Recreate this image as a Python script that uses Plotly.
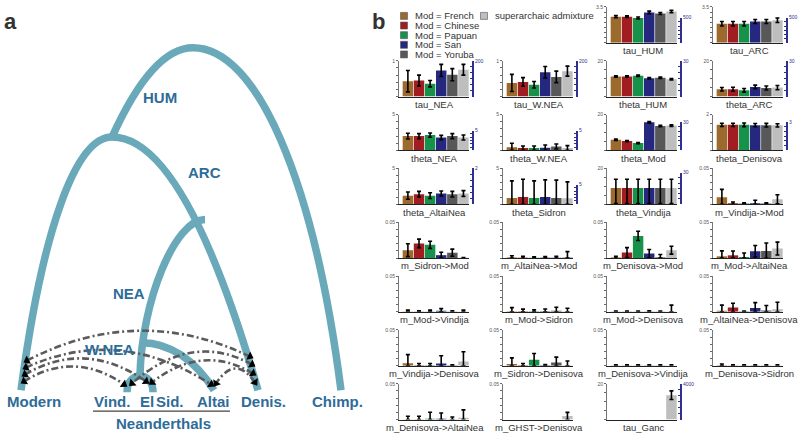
import math
import plotly.graph_objects as go

W, H = 800, 438

# ---------------- panel b data ----------------
categories = ["Mod = French", "Mod = Chinese", "Mod = Papuan", "Mod = San",
              "Mod = Yoruba", "superarchaic admixture"]

tau_HUM = [2.55, 2.55, 2.42, 2.97, 2.86, 3.05]
tau_HUM_err = [0.10, 0.08, 0.10, 0.12, 0.10, 0.12]
tau_ARC = [1.86, 1.86, 1.86, 2.08, 2.08, 2.20]
tau_ARC_err = [0.22, 0.22, 0.22, 0.20, 0.20, 0.22]
tau_NEA = [0.43, 0.45, 0.36, 0.73, 0.61, 0.75]
tau_NEA_err = [0.30, 0.15, 0.09, 0.17, 0.17, 0.15]
tau_WNEA = [0.38, 0.41, 0.33, 0.68, 0.55, 0.71]
tau_WNEA_err = [0.24, 0.12, 0.09, 0.16, 0.16, 0.14]
theta_HUM = [11.2, 11.2, 11.6, 10.3, 10.5, 9.7]
theta_HUM_err = [0.4, 0.4, 0.4, 0.4, 0.4, 0.4]
theta_ARC = [4.1, 4.1, 3.5, 5.4, 4.8, 5.0]
theta_ARC_err = [1.0, 1.1, 1.0, 1.0, 1.1, 1.2]
theta_NEA = [2.0, 2.0, 2.14, 1.8, 2.0, 1.8]
theta_NEA_err = [0.4, 0.35, 0.3, 0.3, 0.35, 0.35]
theta_WNEA = [0.45, 0.32, 0.32, 0.36, 0.55, 0.32]
theta_WNEA_err = [0.55, 0.3, 0.3, 0.4, 0.35, 0.35]
theta_Mod = [6.0, 5.2, 4.1, 15.7, 13.7, 13.9]
theta_Mod_err = [0.4, 0.35, 0.3, 0.45, 0.4, 0.45]
theta_Denisova = [1.43, 1.43, 1.43, 1.41, 1.41, 1.40]
theta_Denisova_err = [0.09, 0.09, 0.10, 0.09, 0.10, 0.09]
theta_AltaiNea = [1.2, 1.4, 1.2, 1.5, 1.4, 1.5]
theta_AltaiNea_err = [0.5, 0.4, 0.4, 0.35, 0.4, 0.4]
theta_Sidron = [0.87, 1.0, 0.87, 1.0, 0.87, 0.83]
theta_Sidron_err = [2.4, 2.5, 2.4, 2.4, 2.5, 2.3]
theta_Vindija = [9.0, 9.0, 9.0, 9.0, 9.0, 9.0]
theta_Vindija_err = [5.0, 5.0, 5.0, 5.0, 5.0, 5.0]
theta_Vindija_err_low = [8.6, 8.6, 8.6, 8.6, 8.6, 8.6]
m_Vindija_Mod = [0.0097, 0.0015, 0.001, 0.0015, 0.001, 0.007]
m_Vindija_Mod_err = [0.011, 0.0015, 0.001, 0.004, 0.001, 0.0063]
m_Sidron_Mod = [0.011, 0.0205, 0.0185, 0.004, 0.0075, 0.0005]
m_Sidron_Mod_err = [0.009, 0.006, 0.005, 0.004, 0.005, 0.0003]
m_AltaiNea_Mod = [0.0008, 0.0005, 0.0004, 0.0005, 0.0005, 0.0015]
m_AltaiNea_Mod_err = [0.0025, 0.002, 0.0012, 0.0015, 0.002, 0.0075]
m_Denisova_Mod = [0.0008, 0.0076, 0.031, 0.0062, 0.001, 0.011]
m_Denisova_Mod_err = [0.0018, 0.007, 0.0064, 0.0057, 0.004, 0.0055]
m_Mod_AltaiNea = [0.0024, 0.0038, 0.0014, 0.0095, 0.010, 0.0133]
m_Mod_AltaiNea_err = [0.0076, 0.006, 0.0057, 0.008, 0.011, 0.009]
m_Mod_Vindija = [0.0005, 0.0004, 0.0005, 0.0015, 0.0004, 0.0005]
m_Mod_Vindija_err = [0.002, 0.0012, 0.002, 0.003, 0.001, 0.002]
m_Mod_Sidron = [0.001, 0.0008, 0.0008, 0.001, 0.0015, 0.001]
m_Mod_Sidron_err = [0.005, 0.003, 0.002, 0.003, 0.005, 0.004]
m_Mod_Denisova = [0.0004, 0.0004, 0.0004, 0.0004, 0.0004, 0.0005]
m_Mod_Denisova_err = [0.0008, 0.0008, 0.0008, 0.001, 0.0008, 0.009]
m_AltaiNea_Denisova = [0.0015, 0.006, 0.0008, 0.0055, 0.002, 0.0035]
m_AltaiNea_Denisova_err = [0.008, 0.006, 0.0005, 0.0075, 0.007, 0.010]
m_Vindija_Denisova = [0.0035, 0.0005, 0.0005, 0.003, 0.0005, 0.006]
m_Vindija_Denisova_err = [0.012, 0.0025, 0.0025, 0.011, 0.0008, 0.0135]
m_Sidron_Denisova = [0.0025, 0.0005, 0.0085, 0.0008, 0.0045, 0.0005]
m_Sidron_Denisova_err = [0.0085, 0.0025, 0.0085, 0.0008, 0.0075, 0.006]
m_Denisova_Vindija = [0.0004, 0.0004, 0.0004, 0.0004, 0.0004, 0.0004]
m_Denisova_Vindija_err = [0.0008, 0.0008, 0.0008, 0.0008, 0.0008, 0.0008]
m_Denisova_Sidron = [0.0008, 0.0004, 0.0004, 0.0004, 0.0004, 0.0004]
m_Denisova_Sidron_err = [0.0015, 0.0008, 0.0008, 0.0008, 0.0008, 0.0008]
m_Denisova_AltaiNea = [0.0005, 0.0005, 0.0012, 0.0012, 0.0005, 0.0025]
m_Denisova_AltaiNea_err = [0.004, 0.004, 0.009, 0.008, 0.003, 0.011]
m_GHST_Denisova = [None, None, None, None, None, 0.005]
m_GHST_Denisova_err = [None, None, None, None, None, 0.005]
tau_Ganc = [None, None, None, None, None, 13.6]
tau_Ganc_err = [None, None, None, None, None, 2.4]

params = {
    "tau_HUM": (tau_HUM, tau_HUM_err, None),
    "tau_ARC": (tau_ARC, tau_ARC_err, None),
    "tau_NEA": (tau_NEA, tau_NEA_err, None),
    "tau_W.NEA": (tau_WNEA, tau_WNEA_err, None),
    "theta_HUM": (theta_HUM, theta_HUM_err, None),
    "theta_ARC": (theta_ARC, theta_ARC_err, None),
    "theta_NEA": (theta_NEA, theta_NEA_err, None),
    "theta_W.NEA": (theta_WNEA, theta_WNEA_err, None),
    "theta_Mod": (theta_Mod, theta_Mod_err, None),
    "theta_Denisova": (theta_Denisova, theta_Denisova_err, None),
    "theta_AltaiNea": (theta_AltaiNea, theta_AltaiNea_err, None),
    "theta_Sidron": (theta_Sidron, theta_Sidron_err, None),
    "theta_Vindija": (theta_Vindija, theta_Vindija_err, theta_Vindija_err_low),
    "m_Vindija->Mod": (m_Vindija_Mod, m_Vindija_Mod_err, None),
    "m_Sidron->Mod": (m_Sidron_Mod, m_Sidron_Mod_err, None),
    "m_AltaiNea->Mod": (m_AltaiNea_Mod, m_AltaiNea_Mod_err, None),
    "m_Denisova->Mod": (m_Denisova_Mod, m_Denisova_Mod_err, None),
    "m_Mod->AltaiNea": (m_Mod_AltaiNea, m_Mod_AltaiNea_err, None),
    "m_Mod->Vindija": (m_Mod_Vindija, m_Mod_Vindija_err, None),
    "m_Mod->Sidron": (m_Mod_Sidron, m_Mod_Sidron_err, None),
    "m_Mod->Denisova": (m_Mod_Denisova, m_Mod_Denisova_err, None),
    "m_AltaiNea->Denisova": (m_AltaiNea_Denisova, m_AltaiNea_Denisova_err, None),
    "m_Vindija->Denisova": (m_Vindija_Denisova, m_Vindija_Denisova_err, None),
    "m_Sidron->Denisova": (m_Sidron_Denisova, m_Sidron_Denisova_err, None),
    "m_Denisova->Vindija": (m_Denisova_Vindija, m_Denisova_Vindija_err, None),
    "m_Denisova->Sidron": (m_Denisova_Sidron, m_Denisova_Sidron_err, None),
    "m_Denisova->AltaiNea": (m_Denisova_AltaiNea, m_Denisova_AltaiNea_err, None),
    "m_GHST->Denisova": (m_GHST_Denisova, m_GHST_Denisova_err, None),
    "tau_Ganc": (tau_Ganc, tau_Ganc_err, None),
}

# left-axis top tick label of each chart
left_top = {"tau_HUM": 3.5, "tau_ARC": 3.5, "tau_NEA": 1, "tau_W.NEA": 1,
            "theta_HUM": 20, "theta_ARC": 20, "theta_NEA": 5, "theta_W.NEA": 5,
            "theta_Mod": 20, "theta_Denisova": 2, "theta_AltaiNea": 5,
            "theta_Sidron": 5, "theta_Vindija": 20, "tau_Ganc": 20}
left_intervals = {3.5: 7, 1: 5, 20: 4, 5: 5, 2: 4, 0.05: 5}
# right (blue) axis top tick label
right_top = {"tau_HUM": 500, "tau_ARC": 500, "tau_NEA": 200, "tau_W.NEA": 200,
             "theta_HUM": 30, "theta_ARC": 30, "theta_NEA": 5, "theta_W.NEA": 5,
             "theta_Mod": 30, "theta_Denisova": 3, "theta_AltaiNea": 2,
             "theta_Sidron": 5, "theta_Vindija": 30, "tau_Ganc": 4000}

grid = [
    [None, None, "tau_HUM", "tau_ARC"],
    ["tau_NEA", "tau_W.NEA", "theta_HUM", "theta_ARC"],
    ["theta_NEA", "theta_W.NEA", "theta_Mod", "theta_Denisova"],
    ["theta_AltaiNea", "theta_Sidron", "theta_Vindija", "m_Vindija->Mod"],
    ["m_Sidron->Mod", "m_AltaiNea->Mod", "m_Denisova->Mod", "m_Mod->AltaiNea"],
    ["m_Mod->Vindija", "m_Mod->Sidron", "m_Mod->Denisova", "m_AltaiNea->Denisova"],
    ["m_Vindija->Denisova", "m_Sidron->Denisova", "m_Denisova->Vindija", "m_Denisova->Sidron"],
    ["m_Denisova->AltaiNea", "m_GHST->Denisova", "tau_Ganc", None],
]

# ---------------- panel a (tree diagram, pixel space) ----------------
tree_nodes = {
    "Modern": (21, 390), "Vind": (127, 392), "Sid": (153, 392), "Altai": (214, 390),
    "Denis": (258, 390), "Chimp": (341, 390),
    "HUM": (193, 45), "ARC": (112, 135), "NEA": (205, 218), "WNEA": (142, 342),
    "VS": (140, 374),
}
tree_labels = [("HUM", 160, 95), ("ARC", 204, 171), ("NEA", 129, 293), ("W.NEA", 109, 349)]
leaf_labels = [("Modern", 34, 401), ("Vind.", 112, 401), ("El", 147, 401), ("Sid.", 170, 401),
               ("Altai", 213, 401), ("Denis.", 263, 401), ("Chimp.", 337, 401)]
group_label = ("Neanderthals", 163, 423)

mig_mod = [(27, 360), (26, 367), (25, 374), (24, 381)]
mig_den = [(250, 356), (252, 364), (253, 373), (255, 382)]
mig_vind = [(124, 384), (132, 383)]
mig_sid = [(146, 381), (152, 382)]
mig_alt = [(211, 384), (216, 383)]
migrations = [
    (mig_mod[0], mig_den[0], 330),
    (mig_mod[1], mig_alt[0], 350),
    (mig_mod[2], mig_sid[0], 358),
    (mig_mod[3], mig_vind[0], 366),
    (mig_den[1], mig_vind[1], 352),
    (mig_den[2], mig_sid[1], 360),
    (mig_den[3], mig_alt[1], 368),
]

# ---------------- styles ----------------
FONT = "Arial, Liberation Sans, sans-serif"
bar_colors = ["#9d6a2e", "#a11d22", "#17924a", "#26287f", "#585858", "#bebebe"]
TEAL = "#69a9ba"
TREE_TXT = "#2e6c98"
BLUE = "#2f2f92"
COL_X = [399, 503, 607, 713]
PLOT_W = 70
BLUE_OFF = 74
ROW_LABEL_Y = [48 + 54.2 * r for r in range(8)]
blue_frac = {"tau_HUM": 0.7, "tau_ARC": 0.7, "tau_NEA": 1.0, "tau_W.NEA": 1.0,
             "theta_HUM": 1.0, "theta_ARC": 1.0, "theta_NEA": 0.55, "theta_W.NEA": 0.55,
             "theta_Mod": 0.8, "theta_Denisova": 0.8, "theta_AltaiNea": 1.0,
             "theta_Sidron": 0.55, "theta_Vindija": 0.88, "tau_Ganc": 1.0}


def fx(x):
    return x / W


def fy(y):
    return 1 - y / H


def fmt(v):
    return "%g" % v


fig = go.Figure()
layout = dict(
    width=W, height=H, autosize=False,
    margin=dict(l=0, r=0, t=0, b=0),
    paper_bgcolor="white", plot_bgcolor="rgba(0,0,0,0)",
    showlegend=False, font=dict(family=FONT, color="#333"),
    xaxis=dict(domain=[0, 1], range=[0, W], visible=False, fixedrange=True),
    yaxis=dict(domain=[0, 1], range=[H, 0], visible=False, fixedrange=True),
)
annotations = []
shapes = []

# ---- charts ----
n = 2
blue_idx = 100
for r, row in enumerate(grid):
    for c, name in enumerate(row):
        if name is None:
            continue
        vals, err, err_low = params[name]
        if err_low is None:
            err_low = [None if (e is None or v is None) else min(e, v) for v, e in zip(vals, err)]
        L = COL_X[c]
        ly = ROW_LABEL_Y[r]
        top, bot = ly - 44, ly - 8
        top_val = left_top.get(name, 0.05)
        nint = left_intervals[top_val]
        tv = [top_val * i / nint for i in range(nint + 1)]
        tt = [""] * nint + [fmt(top_val)]
        layout[f"xaxis{n}"] = dict(domain=[fx(L), fx(L + PLOT_W)], anchor=f"y{n}",
                                   range=[-0.8, 5.5], showline=True, linecolor="#222",
                                   linewidth=1, showticklabels=False, ticks="",
                                   showgrid=False, zeroline=False, fixedrange=True)
        layout[f"yaxis{n}"] = dict(domain=[fy(bot), fy(top)], anchor=f"x{n}",
                                   range=[0, top_val], tickvals=tv, ticktext=tt,
                                   ticks="outside", ticklen=2, tickwidth=1, tickcolor="#666",
                                   showline=True, linecolor="#777", linewidth=1,
                                   tickfont=dict(size=5, color="#555"),
                                   showgrid=False, zeroline=False, fixedrange=True)
        fig.add_trace(go.Bar(
            x=list(range(6)), y=vals, marker=dict(color=bar_colors, line=dict(width=0)),
            width=0.94,
            error_y=dict(type="data", symmetric=False, array=err, arrayminus=err_low,
                         color="black", thickness=1.6, width=2),
            xaxis=f"x{n}", yaxis=f"y{n}", hoverinfo="skip", showlegend=False))
        annotations.append(dict(x=fx(L + 36), y=fy(ly), xref="paper", yref="paper",
                                text=name, showarrow=False, font=dict(size=9.5, color="#333"),
                                xanchor="center", yanchor="middle"))
        if name in right_top:
            bv = right_top[name]
            frac = blue_frac[name]
            nb = 6
            btv = [bv * i / nb for i in range(nb + 1)]
            btt = [""] * nb + [fmt(bv)]
            top_b = bot - frac * (bot - top)
            layout[f"yaxis{blue_idx}"] = dict(
                domain=[fy(bot), fy(top_b)], anchor="free", position=fx(L + BLUE_OFF),
                side="right", range=[0, bv], tickvals=btv, ticktext=btt,
                ticks="inside", ticklen=2, tickwidth=1, tickcolor=BLUE,
                showline=True, linecolor=BLUE, linewidth=2,
                tickfont=dict(size=5, color=BLUE), showgrid=False, zeroline=False,
                fixedrange=True)
            fig.add_trace(go.Scatter(x=[None], y=[None], xaxis=f"x{n}", yaxis=f"y{blue_idx}",
                                     mode="markers", showlegend=False, hoverinfo="skip"))
            blue_idx += 1
        n += 1

# ---- legend for panel b ----
leg_x = [404, 404, 404, 404, 404, 484]
leg_y = [13, 22.7, 32.4, 42.1, 51.8, 13]
fig.add_trace(go.Scatter(x=leg_x, y=leg_y, xaxis="x", yaxis="y", mode="markers",
                         marker=dict(symbol="square", size=7, color=bar_colors,
                                     line=dict(color="#555", width=0.6)),
                         hoverinfo="skip", showlegend=False))
for lab, x, y in zip(categories, leg_x, leg_y):
    annotations.append(dict(x=x + 9, y=y, xref="x", yref="y", text=lab, showarrow=False,
                            xanchor="left", yanchor="middle", font=dict(size=9.5, color="#333")))


# ---- tree ----
def ctrl(apex, end, f):
    """control points of a curve leaving 'apex' horizontally and reaching 'end';
    f=0 gives a parabola, f=1 a quarter ellipse"""
    dx, dy = end[0] - apex[0], end[1] - apex[1]
    a = 1 / 3 + f * (0.552 - 1 / 3)
    b = 2 / 3 + f * (0.552 - 2 / 3)
    c_apex = (apex[0] + a * dx, apex[1])
    c_end = (end[0] - (1 - f) * dx / 3, end[1] - b * dy)
    return c_apex, c_end


def arc(p0, apex, p1, f0=0.0, f1=0.0):
    ca0, ce0 = ctrl(apex, p0, f0)
    ca1, ce1 = ctrl(apex, p1, f1)
    return (f"M {p0[0]},{p0[1]} C {ce0[0]},{ce0[1]} {ca0[0]},{ca0[1]} {apex[0]},{apex[1]} "
            f"C {ca1[0]},{ca1[1]} {ce1[0]},{ce1[1]} {p1[0]},{p1[1]}")


def half(apex, p1, f=0.0):
    ca, ce = ctrl(apex, p1, f)
    return f"M {apex[0]},{apex[1]} C {ca[0]},{ca[1]} {ce[0]},{ce[1]} {p1[0]},{p1[1]}"


N = tree_nodes
tree_paths = [
    arc(N["ARC"], N["HUM"], N["Chimp"], 0.0, 0.45),
    arc(N["Modern"], N["ARC"], N["Denis"], 0.3, 0.0),
    f"M {N['NEA'][0]},{N['NEA'][1]} C {N['NEA'][0] - 30},{N['NEA'][1]} "
    f"{N['VS'][0] + 2},{N['VS'][1] - 74} {N['VS'][0]},{N['VS'][1]}",
    half(N["WNEA"], N["Altai"], 0.2),
    f"M {N['Vind'][0]},{N['Vind'][1]} C {N['Vind'][0]},{N['VS'][1] - 4} "
    f"{N['Sid'][0]},{N['VS'][1] - 4} {N['Sid'][0]},{N['Sid'][1]}",
]
for p in tree_paths:
    shapes.append(dict(type="path", path=p, xref="x", yref="y", layer="below",
                       line=dict(color=TEAL, width=7.5)))

arrow_x, arrow_y, arrow_ang = [], [], []
for a, b, peak in migrations:
    cx = (a[0] + b[0]) / 2
    cy = 2 * peak - (a[1] + b[1]) / 2
    shapes.append(dict(type="path", path=f"M {a[0]},{a[1]} Q {cx},{cy} {b[0]},{b[1]}",
                       xref="x", yref="y", layer="below",
                       line=dict(color="#5b5b5b", width=2.6, dash="7px,3px,2px,3px")))
    for p in (a, b):
        dx, dy = p[0] - cx, p[1] - cy
        arrow_x.append(p[0])
        arrow_y.append(p[1])
        arrow_ang.append(math.degrees(math.atan2(dx, -dy)))
fig.add_trace(go.Scatter(x=arrow_x, y=arrow_y, xaxis="x", yaxis="y", mode="markers",
                         marker=dict(symbol="triangle-up", size=8, color="black",
                                     angle=arrow_ang, line=dict(width=0)),
                         hoverinfo="skip", showlegend=False))

for t, x, y in tree_labels + leaf_labels + [group_label]:
    annotations.append(dict(x=x, y=y, xref="x", yref="y", text=f"<b>{t}</b>", showarrow=False,
                            xanchor="center", yanchor="middle",
                            font=dict(size=15, color=TREE_TXT)))
shapes.append(dict(type="line", x0=93, x1=230, y0=411, y1=411, xref="x", yref="y",
                   line=dict(color="#444", width=1.3)))

# panel letters
annotations.append(dict(x=10, y=19, xref="x", yref="y", text="<b>a</b>", showarrow=False,
                        font=dict(size=22, color="#333"), xanchor="center", yanchor="middle"))
annotations.append(dict(x=378, y=19, xref="x", yref="y", text="<b>b</b>", showarrow=False,
                        font=dict(size=22, color="#333"), xanchor="center", yanchor="middle"))

layout["annotations"] = annotations
layout["shapes"] = shapes
fig.update_layout(**layout)
fig.write_html("out.html", config={"displayModeBar": False, "staticPlot": True},
               post_script="document.body.style.margin='0px';document.body.style.padding='0px';"
                           "document.body.style.overflow='hidden';")
